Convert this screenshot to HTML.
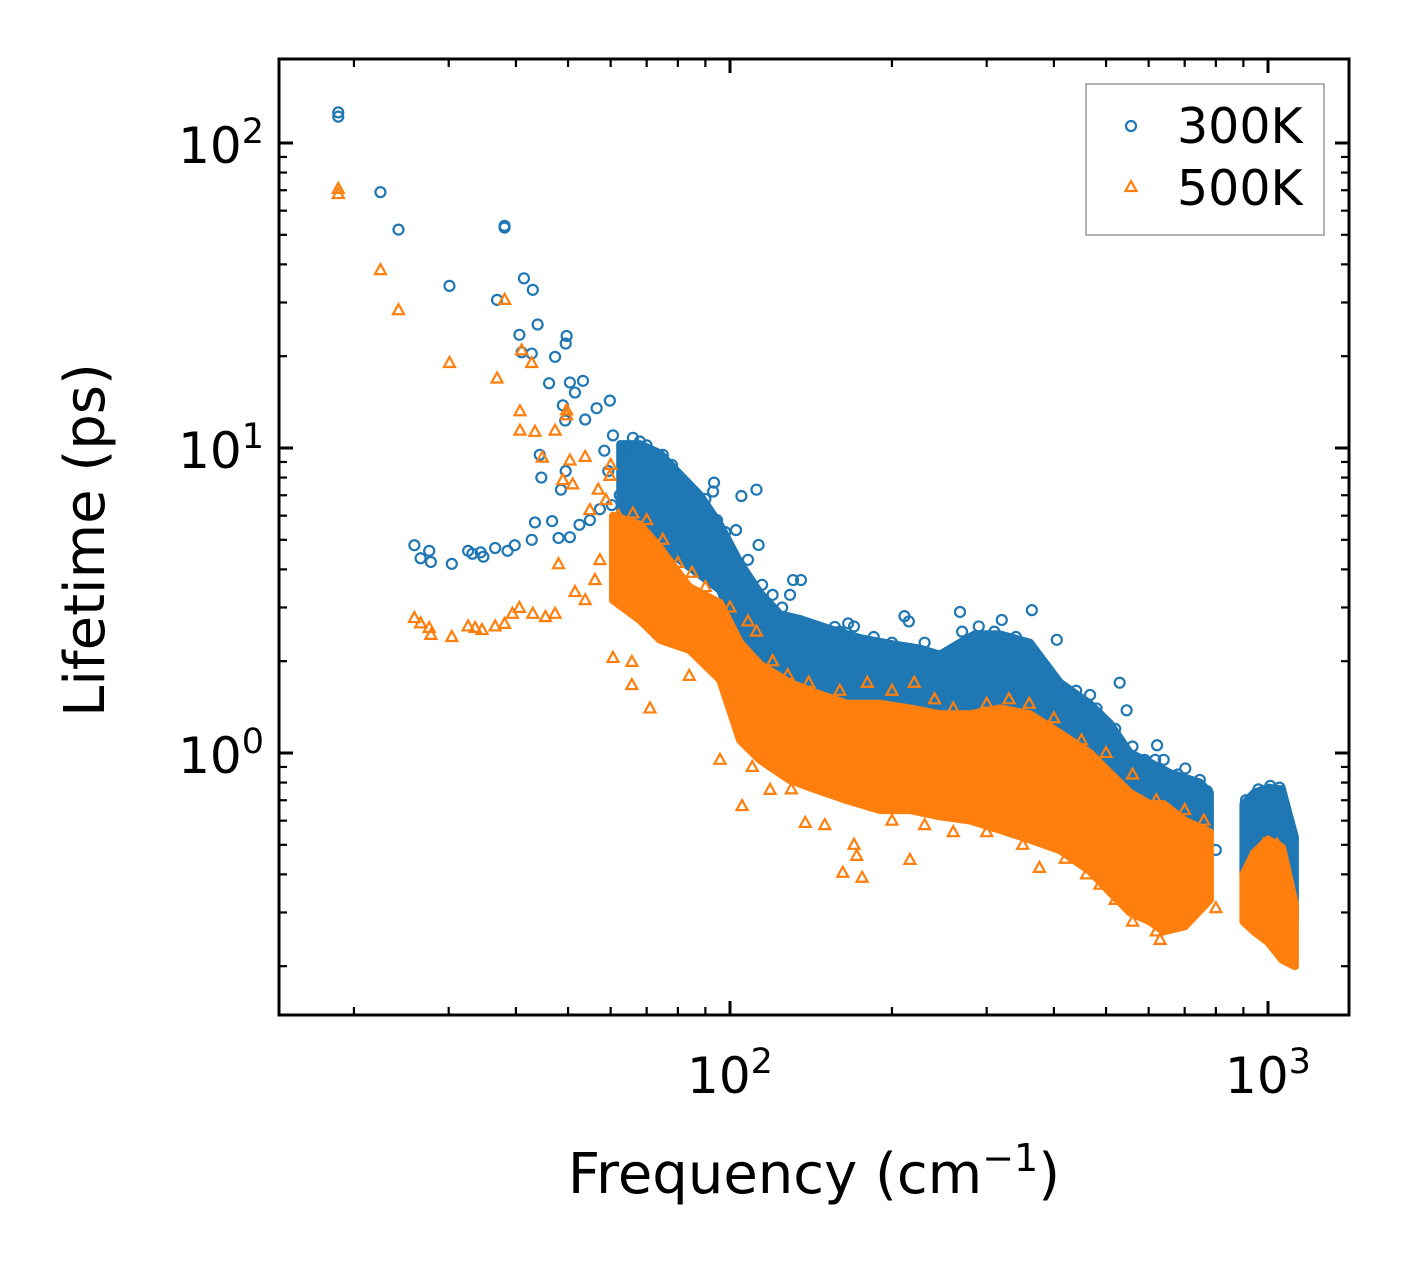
<!DOCTYPE html>
<html><head><meta charset="utf-8"><style>
html,body{margin:0;padding:0;background:#fff}
svg{display:block;font-family:"DejaVu Sans","Liberation Sans",sans-serif}
</style></head><body>
<div style="position:relative;width:1408px;height:1265px">
<svg id="chart" width="1408" height="1265" viewBox="0 0 1408 1265" style="position:absolute;left:0;top:0">
<rect x="0" y="0" width="1408" height="1265" fill="#fff"/>
<g id="plot"></g>
<g id="axes"></g>
<text x="814" y="1193" font-size="56" text-anchor="middle">Frequency (cm<tspan dy="-22" font-size="38">−1</tspan><tspan dy="22">)</tspan></text>
<text transform="translate(104,540) rotate(-90)" font-size="56" text-anchor="middle">Lifetime (ps)</text>
<g>
<rect x="1086" y="84" width="238" height="151" fill="#fff" fill-opacity="0.8" stroke="#999" stroke-width="1.5"/>
<g>
<circle cx="1131" cy="126" r="5" fill="none" stroke="#1f77b4" stroke-width="2.2"/>
<text x="1177" y="143" font-size="49">300K</text></g>
<g>
<polygon points="1131,181 1125.5,191 1136.5,191" fill="none" stroke="#ff7f0e" stroke-width="2.2"/>
<text x="1177" y="205" font-size="49">500K</text></g>
</g>
</svg></div>
<script>
// ---- data ----
const bandFreq = [62.5,68.0,74.1,80.7,88.0,95.8,104.4,113.7,123.9,135,153.4,174.4,198.3,225.4,245.6,267.6,285,317.5,361,410.5,466.7,508.4,554,603.6,657.6,747.5,779.8];
const blueUpper = [10.3,10.3,9.6,8.2,7.0,5.6,4.2,3.35,2.85,2.75,2.55,2.38,2.28,2.2,2.1,2.3,2.45,2.45,2.3,1.7,1.45,1.25,1.0,0.93,0.86,0.8,0.74];
const blueLower = [5.81,5.39,4.81,4.29,3.83,3.42,2.35,2.02,1.74,1.61,1.38,1.28,1.19,1.10,0.949,0.949,1.02,0.88,0.757,0.65,0.603,0.559,0.519,0.481,0.519,0.559,0.559];
const orangeFreq = [60.6,68.0,74.1,84,95.8,104.4,113.7,129,145,165,190,216,245.6,280,317.5,361,410.5,466.7,508.4,554,603.6,640,700,779.8];
const orangeUpper = [6.0,5.6,4.7,3.5,3.1,2.3,1.95,1.7,1.57,1.45,1.45,1.4,1.34,1.34,1.4,1.34,1.16,1.0,0.86,0.74,0.68,0.68,0.6,0.55];
const orangeLower = [3.17,2.73,2.35,2.18,1.74,1.10,0.949,0.816,0.757,0.70,0.65,0.65,0.62,0.60,0.56,0.52,0.48,0.41,0.35,0.30,0.28,0.26,0.27,0.33];
const clusterFreq = [900,942,1000,1062,1122];
const blueClusterUpper = [0.68,0.74,0.77,0.76,0.53];
const blueClusterLower = [0.40,0.33,0.31,0.29,0.28];
const orangeClusterUpper = [0.40,0.47,0.52,0.49,0.32];
const orangeClusterLower = [0.28,0.26,0.24,0.21,0.2];

const blueFreq = [18.7,18.7,22.4,24.2,30.1,36.9,38.1,38.1,41.4,43.0,40.6,41,42.8,43.9,46.1,47.3,49.5,49.7,50.4,53.3,51.5,48.9,49.4,53.8,56.5,59.8,60.6,58.4,44.3,44.6,46.7,43.4,48.5,49.5,48.0,50.4,52.5,54.9,57.3,60.3,62.4,59.4,25.9,26.6,27.6,27.8,30.4,32.6,33.2,34.4,34.8,36.6,38.6,39.8,42.8,93,93.4,105,112,94.6,102.6,113,114.7,131,135.5,129.3,156.6,165.8,211,267.6,320,364,333,405,365,467,530,546,622,617,702,747,800,66,70,72,
140,150,160,170,185,200,215,230,250,270,290,310,340,350,380,420,440,480,520,560,590,640,680,720,770,760,120,125,108,98,90,85,78,75,68,64,910,960,1010,1050,1080,1100];
const blueLife = [126,122,69,52,34,30.6,52.8,53.5,36,33,23.5,20.6,20.4,25.4,16.3,19.9,22,23.3,16.4,16.6,15.2,13.8,12.3,12.4,13.5,14.3,11.0,9.8,9.5,8.0,5.76,5.7,7.3,8.4,5.07,5.1,5.6,5.8,6.3,6.5,7.0,8.4,4.8,4.35,4.6,4.23,4.17,4.6,4.5,4.55,4.4,4.7,4.6,4.8,5.0,7.2,7.7,6.96,7.3,5.8,5.38,4.81,3.56,3.69,3.69,3.3,2.59,2.66,2.81,2.9,2.73,2.94,2.35,2.35,2.05,1.55,1.7,1.38,1.06,0.95,0.89,0.816,0.481,10.8,10.2,9.6,
2.6,2.4,2.5,2.6,2.4,2.3,2.7,2.3,2.1,2.5,2.6,2.5,2.4,2.2,1.7,1.6,1.6,1.4,1.2,1.05,0.95,0.95,0.85,0.8,0.75,0.7,3.3,3.0,4.3,5.3,6.8,7.2,8.8,9.5,10.5,9.9,0.7,0.76,0.78,0.77,0.6,0.45];
const orangeFreqPts = [18.7,18.7,22.4,24.2,30.1,36.9,38.1,40.7,41,42.8,40.7,43.4,47.3,49.7,49.7,44.8,50.4,53.8,60,59.8,48.9,51,56.9,54.9,58.8,25.9,26.6,27.6,27.8,30.4,32.6,33.6,34.6,36.6,38.1,39.4,40.6,43,45.4,47.3,48,51.5,53.8,56.1,57.3,60.6,65.7,65.7,71,84,95.8,105.3,118.7,138,162,176,172,216,376,487,800,630,
62,66,70,75,80,85,90,100,108,112,120,128,140,160,180,200,220,240,260,300,330,360,400,450,500,560,620,700,760,110,130,150,170,200,230,260,300,350,420,460,520,560,620,680,920,980,1040,1100];
const orangeLife = [70.7,68,38.3,28.3,19,16.9,30.6,13.2,20.9,19,11.4,11.3,11.4,13.3,12.8,9.3,9.1,9.35,8.8,8.1,7.85,7.6,7.3,6.26,6.75,2.77,2.66,2.57,2.44,2.4,2.6,2.57,2.53,2.6,2.65,2.86,2.99,2.86,2.79,2.86,4.16,3.37,3.17,3.69,4.29,2.05,1.99,1.67,1.4,1.79,0.95,0.67,0.757,0.59,0.405,0.39,0.46,0.446,0.42,0.37,0.31,0.244,
6.0,6.1,5.8,5.0,4.2,3.9,3.5,3.0,2.7,2.5,2.0,1.8,1.7,1.6,1.7,1.6,1.7,1.5,1.4,1.45,1.5,1.45,1.3,1.1,1.0,0.85,0.7,0.65,0.6,0.9,0.76,0.58,0.5,0.6,0.58,0.55,0.55,0.5,0.45,0.4,0.33,0.28,0.26,0.28,0.42,0.5,0.5,0.22];

const xTicks = [100,1000];
const xTickLabels = ['2','3'];
const yTicks = [1,10,100];
const yTickLabels = ['0','1','2'];

// ---- axes functions ----
const L=279,R=1349,T=59,B=1015;
const X = f => 730 + (Math.log10(f)-2)*538;
const Y = t => 753 - Math.log10(t)*305;
const NS='http://www.w3.org/2000/svg';
const plot=document.getElementById('plot');
const axes=document.getElementById('axes');
function mk(tag,attrs,parent){const e=document.createElementNS(NS,tag);for(const k in attrs)e.setAttribute(k,attrs[k]);parent.appendChild(e);return e;}
const BLUE='#1f77b4', ORANGE='#ff7f0e';

function band(fr,up,lo,color,name){
  let pts=[];
  fr.forEach((f,i)=>pts.push(X(f).toFixed(1)+','+Y(up[i]).toFixed(1)));
  for(let i=fr.length-1;i>=0;i--)pts.push(X(fr[i]).toFixed(1)+','+Y(lo[i]).toFixed(1));
  const p=mk('polygon',{points:pts.join(' '),fill:color,stroke:color,'stroke-width':8,'stroke-linejoin':'round'},plot);
  
  
}
function circles(fr,lf){
  fr.forEach((f,i)=>{
    const c=mk('circle',{cx:X(f),cy:Y(lf[i]),r:5,fill:'none',stroke:BLUE,'stroke-width':2.2},plot);
    
    
  });
}
function tris(fr,lf){
  fr.forEach((f,i)=>{
    const x=X(f),y=Y(lf[i]);
    const t=mk('polygon',{points:`${x},${y-6} ${x-5.5},${y+4} ${x+5.5},${y+4}`,fill:'none',stroke:ORANGE,'stroke-width':2.2},plot);
    
    
  });
}
band(bandFreq,blueUpper,blueLower,BLUE,'band-300k');
band(clusterFreq,blueClusterUpper,blueClusterLower,BLUE,'cluster-300k');
circles(blueFreq,blueLife);
band(orangeFreq,orangeUpper,orangeLower,ORANGE,'band-500k');
band(clusterFreq,orangeClusterUpper,orangeClusterLower,ORANGE,'cluster-500k');
tris(orangeFreqPts,orangeLife);

const fr=mk('rect',{x:L,y:T,width:R-L,height:B-T,fill:'none',stroke:'#000','stroke-width':3},axes);



function tick(x1,y1,x2,y2,w){mk('line',{x1,y1,x2,y2,stroke:'#000','stroke-width':w},axes);}
for(let d=10;d<=1000;d*=10){
  for(let m=1;m<10;m++){
    const v=d*m; const x=X(v);
    if(x<L||x>R)continue;
    const maj=(m===1);const len=maj?14:8;
    tick(x,B,x,B-len,maj?3:2.2);tick(x,T,x,T+len,maj?3:2.2);
  }
}
xTicks.forEach((v,i)=>{
  const t=mk('text',{x:X(v),y:1093,'font-size':50,'text-anchor':'middle',fill:'#000'},axes);
  t.innerHTML='10<tspan dy="-20" font-size="35">'+xTickLabels[i]+'</tspan>';
  
  
});
for(let d=0.1;d<=100;d*=10){
  for(let m=1;m<10;m++){
    const v=d*m; const y=Y(v);
    if(y<T||y>B)continue;
    const maj=(m===1);const len=maj?14:8;
    tick(L,y,L+len,y,maj?3:2.2);tick(R,y,R-len,y,maj?3:2.2);
  }
}
yTicks.forEach((v,i)=>{
  const t=mk('text',{x:264,y:Y(v)+20,'font-size':50,'text-anchor':'end',fill:'#000'},axes);
  t.innerHTML='10<tspan dy="-20" font-size="35">'+yTickLabels[i]+'</tspan>';
  
  
});
</script>
</body></html>
